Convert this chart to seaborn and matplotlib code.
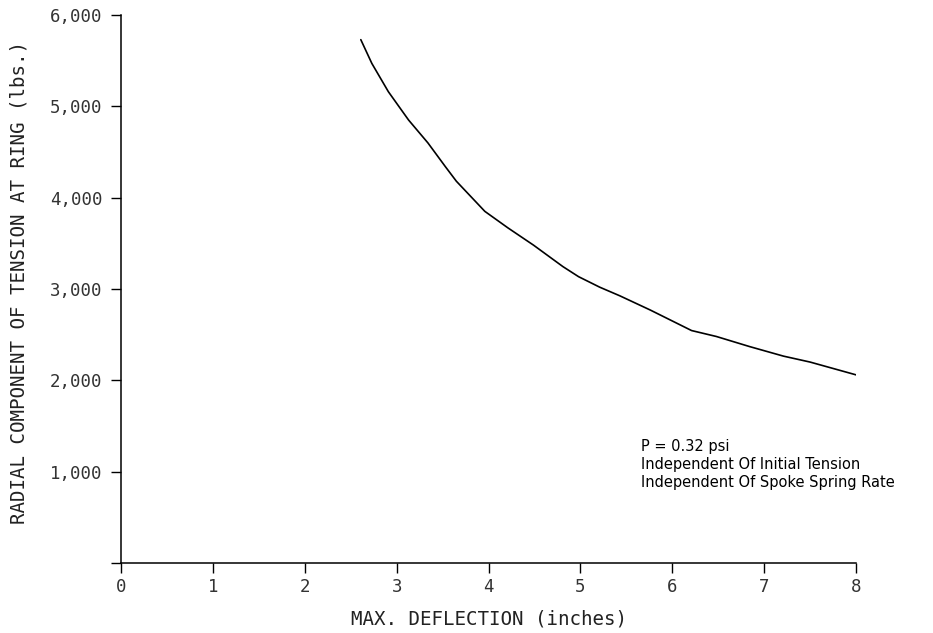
import matplotlib
matplotlib.use("Agg")
import matplotlib.pyplot as plt
import seaborn as sns
import pandas as pd

# Maximum deflection (inches) and radial tension component at the ring (lbs.)
deflection = [2.61, 2.73, 2.91, 3.13, 3.34, 3.53, 3.65, 3.96, 4.21, 4.49, 4.81,
              4.98, 5.21, 5.43, 5.76, 6.21, 6.48, 6.84, 7.21, 7.50, 8.00]
radial_tension = [5730, 5470, 5160, 4850, 4600, 4340, 4180, 3850, 3670, 3480, 3245,
                  3135, 3020, 2925, 2770, 2545, 2480, 2370, 2265, 2200, 2060]

x_ticks = [0, 1, 2, 3, 4, 5, 6, 7, 8]
x_tick_labels = ["0", "1", "2", "3", "4", "5", "6", "7", "8"]
y_ticks = [0, 1000, 2000, 3000, 4000, 5000, 6000]
y_tick_labels = ["", "1,000", "2,000", "3,000", "4,000", "5,000", "6,000"]

note_lines = ["P = 0.32 psi",
              "Independent Of Initial Tension",
              "Independent Of Spoke Spring Rate"]

sns.set_style("ticks")
plt.rcParams["font.family"] = ["DejaVu Sans Mono"]

df = pd.DataFrame({"deflection": deflection, "tension": radial_tension})

fig = plt.figure(figsize=(9.33, 6.33), dpi=100)
ax = fig.add_axes([0.1297, 0.1106, 0.7878, 0.8657])

sns.lineplot(data=df, x="deflection", y="tension", ax=ax, color="black",
             linewidth=1.2, estimator=None, sort=False)

ax.set_xlim(0, 8)
ax.set_ylim(0, 6000)
ax.set_xticks(x_ticks)
ax.set_xticklabels(x_tick_labels)
ax.set_yticks(y_ticks)
ax.set_yticklabels(y_tick_labels)

for side in ("top", "right"):
    ax.spines[side].set_visible(False)
for side in ("left", "bottom"):
    ax.spines[side].set_linewidth(1.1)
    ax.spines[side].set_color("black")

ax.tick_params(axis="both", direction="out", length=7.5, width=1.0,
               color="black", labelsize=12.5, labelcolor="#333333")
ax.tick_params(axis="y", pad=6)
ax.tick_params(axis="x", pad=3)

ax.set_xlabel("MAX. DEFLECTION (inches)", fontsize=13.8, color="#222222", labelpad=10)
ax.set_ylabel("RADIAL COMPONENT OF TENSION AT RING (lbs.)", fontsize=13.8,
              color="#222222")
ax.yaxis.set_label_coords(-0.126, 0.511)

for i, line in enumerate(note_lines):
    ax.text(5.66, 1270 - i * 197, line, fontsize=10.5, family="DejaVu Sans",
            color="black", va="center", ha="left")

fig.savefig("out.png", dpi=100, facecolor="white")
